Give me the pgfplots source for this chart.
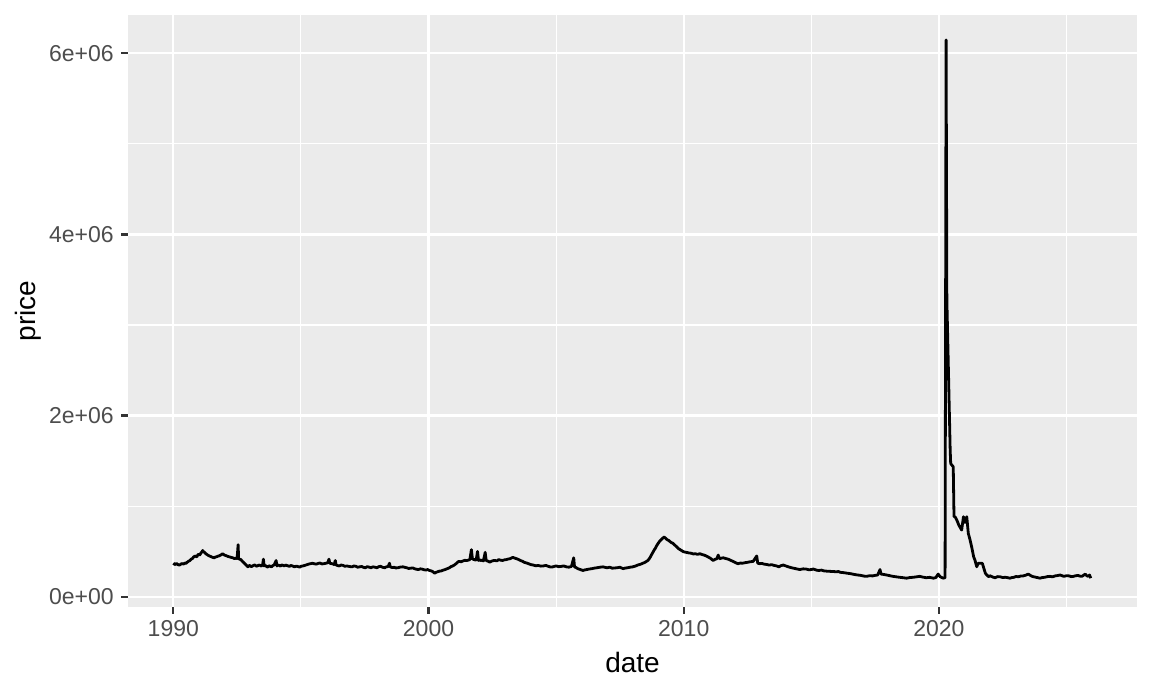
\documentclass[border=0pt]{standalone}
\usepackage{pgfplots}
\pgfplotsset{compat=1.18}
\usepackage{fontspec}
\setmainfont{Liberation Sans}
\definecolor{panel}{HTML}{EBEBEB}
\definecolor{tickc}{HTML}{333333}
\definecolor{labc}{HTML}{4D4D4D}
\begin{document}
\begin{tikzpicture}
\useasboundingbox (0,0) rectangle (576pt,345.5pt);
\begin{axis}[
  at={(64pt,42.15pt)}, anchor=south west,
  scale only axis, width=504.5pt, height=295.85pt,
  xmin=1988.225, xmax=2027.76, ymin=-110000, ymax=6423000,
  axis background/.style={fill=panel},
  axis line style={draw=none},
  xtick={1990,2000,2010,2020}, xticklabels={1990,2000,2010,2020},
  ytick={0,2000000,4000000,6000000}, yticklabels={0e+00,2e+06,4e+06,6e+06},
  scaled y ticks=false, scaled x ticks=false,
  minor xtick={1995,2005,2015,2025},
  minor ytick={1000000,3000000,5000000},
  grid=both,
  major grid style={white, line width=1.1pt},
  minor grid style={white, line width=0.55pt},
  tick align=outside, major tick length=3.5pt, minor tick length=0pt,
  tick style={tickc, line width=1.1pt},
  tick pos=left,
  ticklabel style={font=\fontsize{11.5}{13}\selectfont, text=labc},
  yticklabel style={anchor=east, inner sep=0pt, xshift=-3.5pt},
  xticklabel style={anchor=north, inner sep=0pt, yshift=-3.3pt},
  xlabel={date}, ylabel={price},
  xlabel style={at={([yshift=-22.5pt]axis description cs:0.5,0)}, anchor=north, inner sep=0pt, font=\fontsize{14}{16}\selectfont},
  ylabel style={at={([xshift=-43.15pt]axis description cs:0,0.5)}, anchor=south, inner sep=0pt, font=\fontsize{14}{16}\selectfont},
]
\addplot[black, line width=1.4pt, line join=round] table {
x y
1990.00 370000
1990.04 360000
1990.08 355000
1990.12 368000
1990.15 362000
1990.20 352000
1990.25 350000
1990.30 362000
1990.35 366000
1990.40 360000
1990.45 372000
1990.50 368000
1990.55 382000
1990.60 392000
1990.65 400000
1990.70 415000
1990.75 422000
1990.80 440000
1990.85 450000
1990.92 440000
1990.96 462000
1991.00 470000
1991.04 462000
1991.08 482000
1991.12 495000
1991.15 510000
1991.18 498000
1991.22 490000
1991.26 478000
1991.30 470000
1991.35 460000
1991.40 452000
1991.45 446000
1991.50 440000
1991.55 434000
1991.60 430000
1991.65 438000
1991.70 442000
1991.75 448000
1991.80 452000
1991.87 462000
1991.93 475000
1992.00 460000
1992.05 456000
1992.10 450000
1992.15 444000
1992.20 440000
1992.25 436000
1992.30 432000
1992.35 428000
1992.40 420000
1992.45 426000
1992.50 422000
1992.54 575000
1992.56 420000
1992.60 414000
1992.65 410000
1992.70 392000
1992.75 380000
1992.80 365000
1992.85 352000
1992.92 330000
1992.96 342000
1993.00 345000
1993.05 332000
1993.10 338000
1993.15 348000
1993.20 350000
1993.25 338000
1993.30 340000
1993.35 350000
1993.40 346000
1993.45 338000
1993.50 352000
1993.53 415000
1993.56 340000
1993.60 346000
1993.65 335000
1993.70 326000
1993.75 342000
1993.80 336000
1993.85 330000
1993.90 344000
1993.95 350000
1994.03 400000
1994.06 340000
1994.10 350000
1994.15 346000
1994.20 338000
1994.25 352000
1994.30 346000
1994.35 340000
1994.40 350000
1994.45 345000
1994.50 340000
1994.55 335000
1994.60 345000
1994.65 342000
1994.70 336000
1994.75 330000
1994.82 338000
1994.90 332000
1994.95 326000
1995.00 336000
1995.08 340000
1995.15 346000
1995.22 352000
1995.30 360000
1995.38 365000
1995.45 370000
1995.52 364000
1995.60 360000
1995.68 368000
1995.75 372000
1995.82 362000
1995.90 365000
1995.98 370000
1996.05 375000
1996.10 415000
1996.13 370000
1996.20 366000
1996.25 362000
1996.30 356000
1996.35 400000
1996.38 350000
1996.44 344000
1996.50 340000
1996.58 350000
1996.65 346000
1996.72 336000
1996.80 340000
1996.90 334000
1997.00 330000
1997.08 340000
1997.15 336000
1997.22 326000
1997.30 330000
1997.38 334000
1997.45 325000
1997.52 320000
1997.60 332000
1997.68 326000
1997.75 320000
1997.82 330000
1997.90 326000
1997.98 320000
1998.05 332000
1998.12 336000
1998.20 325000
1998.28 320000
1998.35 330000
1998.42 334000
1998.47 370000
1998.50 330000
1998.58 322000
1998.65 325000
1998.72 318000
1998.80 320000
1998.90 328000
1999.00 330000
1999.08 324000
1999.15 320000
1999.22 312000
1999.30 315000
1999.38 318000
1999.45 310000
1999.52 304000
1999.60 300000
1999.68 308000
1999.75 305000
1999.82 298000
1999.90 295000
1999.97 300000
2000.04 290000
2000.10 286000
2000.15 280000
2000.20 270000
2000.24 260000
2000.30 270000
2000.35 275000
2000.42 282000
2000.50 285000
2000.58 294000
2000.65 300000
2000.72 308000
2000.82 320000
2000.88 332000
2000.95 340000
2001.02 352000
2001.10 370000
2001.15 385000
2001.20 390000
2001.28 386000
2001.35 395000
2001.42 402000
2001.50 400000
2001.56 404000
2001.62 410000
2001.68 520000
2001.72 420000
2001.76 412000
2001.80 410000
2001.84 404000
2001.87 410000
2001.92 500000
2001.96 400000
2002.00 408000
2002.05 400000
2002.10 404000
2002.15 395000
2002.22 490000
2002.26 400000
2002.30 396000
2002.35 390000
2002.40 382000
2002.45 390000
2002.52 398000
2002.60 400000
2002.68 396000
2002.75 410000
2002.82 404000
2002.90 400000
2002.98 408000
2003.05 410000
2003.12 416000
2003.20 420000
2003.25 428000
2003.30 435000
2003.38 426000
2003.45 420000
2003.52 412000
2003.60 400000
2003.68 392000
2003.75 380000
2003.85 372000
2003.96 360000
2004.02 354000
2004.10 350000
2004.20 342000
2004.30 345000
2004.40 338000
2004.50 340000
2004.60 346000
2004.70 335000
2004.78 328000
2004.87 330000
2004.94 336000
2005.00 340000
2005.10 332000
2005.20 335000
2005.30 340000
2005.40 330000
2005.50 326000
2005.60 335000
2005.69 430000
2005.72 330000
2005.78 322000
2005.85 310000
2005.95 300000
2006.05 290000
2006.12 296000
2006.20 300000
2006.30 306000
2006.40 310000
2006.50 316000
2006.60 320000
2006.72 326000
2006.84 330000
2006.92 324000
2007.00 320000
2007.10 326000
2007.20 315000
2007.30 318000
2007.40 320000
2007.50 326000
2007.62 310000
2007.70 316000
2007.80 320000
2007.90 326000
2008.00 330000
2008.10 338000
2008.20 350000
2008.30 358000
2008.40 370000
2008.47 378000
2008.54 390000
2008.60 402000
2008.65 420000
2008.70 442000
2008.75 470000
2008.80 494000
2008.85 520000
2008.89 536000
2008.93 560000
2009.00 590000
2009.05 610000
2009.10 626000
2009.15 640000
2009.20 652000
2009.23 660000
2009.28 648000
2009.35 630000
2009.42 620000
2009.50 600000
2009.58 590000
2009.65 570000
2009.72 552000
2009.80 530000
2009.88 516000
2009.97 500000
2010.03 494000
2010.10 490000
2010.20 484000
2010.30 480000
2010.38 472000
2010.45 475000
2010.54 468000
2010.63 475000
2010.72 466000
2010.80 460000
2010.88 450000
2010.95 440000
2011.05 424000
2011.15 400000
2011.22 412000
2011.30 420000
2011.35 460000
2011.40 420000
2011.48 426000
2011.55 430000
2011.62 424000
2011.67 420000
2011.75 414000
2011.85 400000
2011.92 392000
2012.00 380000
2012.06 372000
2012.13 365000
2012.22 372000
2012.30 370000
2012.40 376000
2012.50 380000
2012.60 386000
2012.72 390000
2012.86 450000
2012.90 370000
2012.98 365000
2013.06 368000
2013.15 360000
2013.25 356000
2013.35 350000
2013.45 354000
2013.55 345000
2013.64 340000
2013.73 330000
2013.80 342000
2013.90 350000
2014.00 340000
2014.10 330000
2014.20 322000
2014.30 315000
2014.42 308000
2014.55 300000
2014.68 308000
2014.80 305000
2014.90 298000
2015.00 300000
2015.07 306000
2015.14 300000
2015.22 292000
2015.30 290000
2015.40 294000
2015.50 285000
2015.62 282000
2015.75 280000
2015.88 278000
2016.00 275000
2016.06 280000
2016.12 270000
2016.26 266000
2016.40 260000
2016.55 254000
2016.70 245000
2016.82 240000
2016.95 235000
2017.06 228000
2017.16 225000
2017.28 232000
2017.40 230000
2017.50 236000
2017.60 240000
2017.69 300000
2017.73 250000
2017.84 246000
2017.95 240000
2018.08 232000
2018.20 225000
2018.32 220000
2018.45 215000
2018.60 210000
2018.73 205000
2018.86 212000
2019.00 215000
2019.12 220000
2019.25 225000
2019.38 216000
2019.50 210000
2019.64 214000
2019.78 205000
2019.88 212000
2019.97 250000
2020.05 220000
2020.11 212000
2020.17 205000
2020.24 210000
2020.28 6147000
2020.31 3280000
2020.44 1620000
2020.46 1470000
2020.56 1435000
2020.59 883000
2020.63 883000
2020.70 847000
2020.78 790000
2020.89 736000
2020.96 883000
2021.02 820000
2021.09 883000
2021.15 700000
2021.22 626000
2021.28 552000
2021.36 440000
2021.41 405000
2021.48 331000
2021.54 369000
2021.62 369000
2021.70 369000
2021.74 331000
2021.82 258000
2021.94 221000
2022.00 232000
2022.05 225000
2022.12 216000
2022.20 210000
2022.30 222000
2022.40 220000
2022.50 212000
2022.60 215000
2022.70 210000
2022.78 205000
2022.86 212000
2022.95 215000
2023.02 224000
2023.10 220000
2023.20 228000
2023.30 230000
2023.40 238000
2023.50 250000
2023.58 236000
2023.65 225000
2023.72 220000
2023.80 215000
2023.88 210000
2023.96 205000
2024.05 212000
2024.15 215000
2024.25 222000
2024.35 225000
2024.45 220000
2024.55 230000
2024.65 234000
2024.75 240000
2024.82 232000
2024.90 225000
2025.00 232000
2025.10 230000
2025.18 222000
2025.27 225000
2025.36 232000
2025.45 235000
2025.52 228000
2025.60 225000
2025.66 236000
2025.73 250000
2025.79 232000
2025.85 225000
2025.90 240000
2025.95 205000
};
\end{axis}
\end{tikzpicture}
\end{document}
